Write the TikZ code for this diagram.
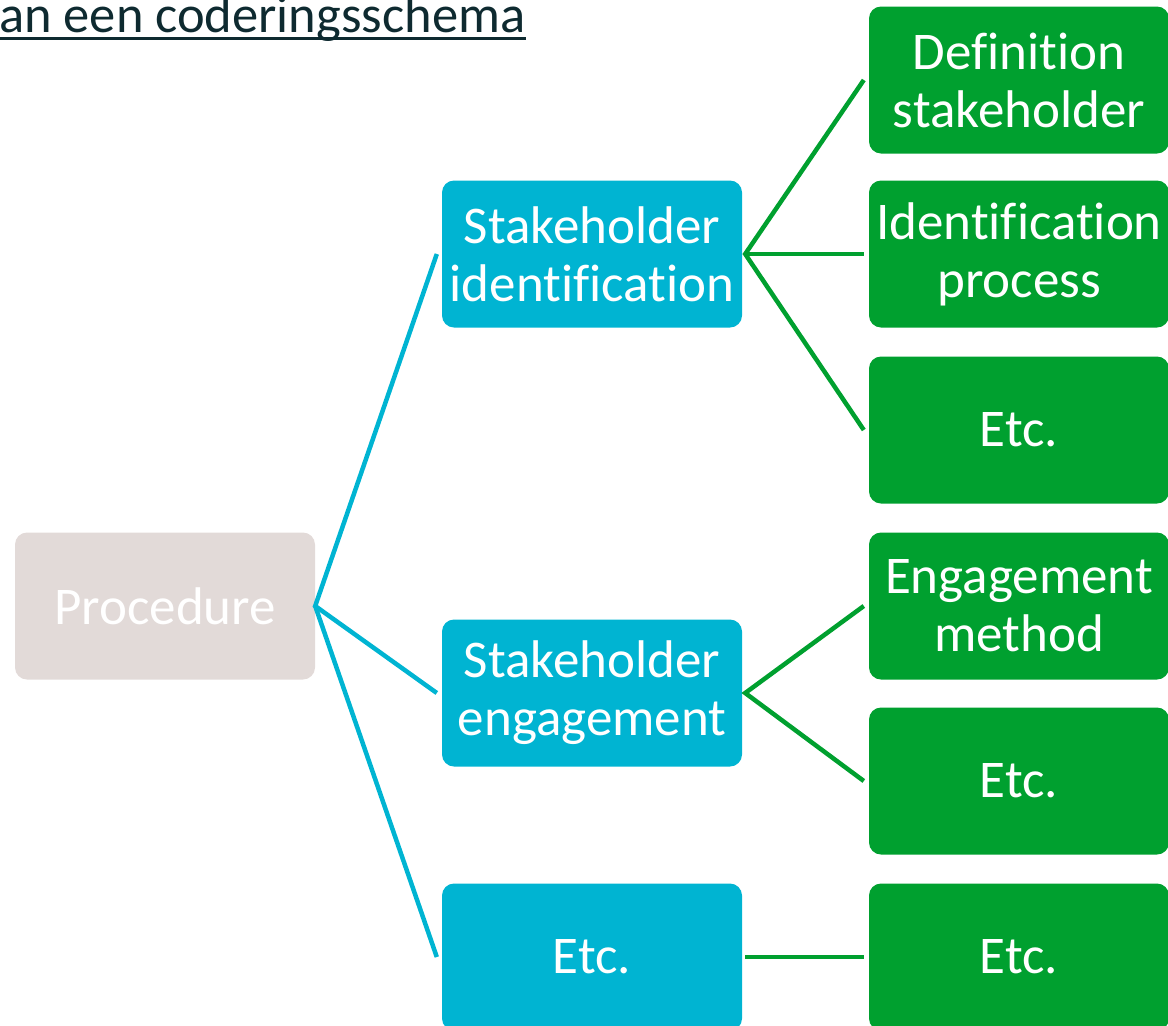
\documentclass[tikz,border=0pt]{standalone}
\usepackage{fontspec}
\setmainfont[Ligatures=NoCommon]{Carlito}
\definecolor{procgrey}{HTML}{E2DAD8}
\definecolor{topicblue}{HTML}{00B4D2}
\definecolor{codegreen}{HTML}{00A02F}
\definecolor{titleink}{HTML}{0E2A30}
\tikzset{
  codebox/.style={rounded corners=12pt, minimum width=300pt, minimum height=147pt,
    inner sep=0pt, align=center, text=white, font=\fontsize{53}{58}\selectfont},
  procbox/.style={codebox, fill=procgrey},
  topicbox/.style={codebox, fill=topicblue},
  leafbox/.style={codebox, fill=codegreen},
  bluelink/.style={topicblue, line width=4.5pt},
  greenlink/.style={codegreen, line width=4.5pt}
}
\begin{document}
\begin{tikzpicture}[x=1pt,y=-1pt]
            \useasboundingbox (0,0) rectangle (1168,1026);
            \node[anchor=base west, inner sep=0pt, text=titleink, font=\fontsize{52.5}{60}\selectfont] (title) at (-1,32.5) {an een coderingsschema};
            \draw[titleink, line width=3pt] ([yshift=-6pt]title.base west) -- ([yshift=-6pt]title.base east);

            \node[procbox] (proc) at (165,606) {Procedure};

            \node[topicbox] (ident) at (592,254) {Stakeholder\\identification};
            \node[topicbox] (engage) at (592,693) {Stakeholder\\engagement};
            \node[topicbox] (topicetc) at (592,957) {Etc.};

            \node[leafbox] (defin) at (1019,80) {Definition\\stakeholder};
            \node[leafbox] (process) at (1019,254) {Identification\\process};
            \node[leafbox] (identetc) at (1019,430) {Etc.};
            \node[leafbox] (method) at (1019,606) {Engagement\\method};
            \node[leafbox] (engageetc) at (1019,781) {Etc.};
            \node[leafbox] (leafetc) at (1019,957) {Etc.};

            \draw[bluelink] ([xshift=-5pt]ident.west) -- (proc.east) -- ([xshift=-5pt]engage.west);
            \draw[bluelink] (proc.east) -- ([xshift=-5pt]topicetc.west);

            \draw[greenlink] ([xshift=-5pt]defin.west) -- ([xshift=3pt]ident.east) -- ([xshift=-5pt]identetc.west);
            \draw[greenlink] ([xshift=3pt]ident.east) -- ([xshift=-5pt]process.west);
            \draw[greenlink] ([xshift=-5pt]method.west) -- ([xshift=3pt]engage.east) -- ([xshift=-5pt]engageetc.west);
            \draw[greenlink] ([xshift=3pt]topicetc.east) -- ([xshift=-5pt]leafetc.west);
        \end{tikzpicture}
\end{document}
